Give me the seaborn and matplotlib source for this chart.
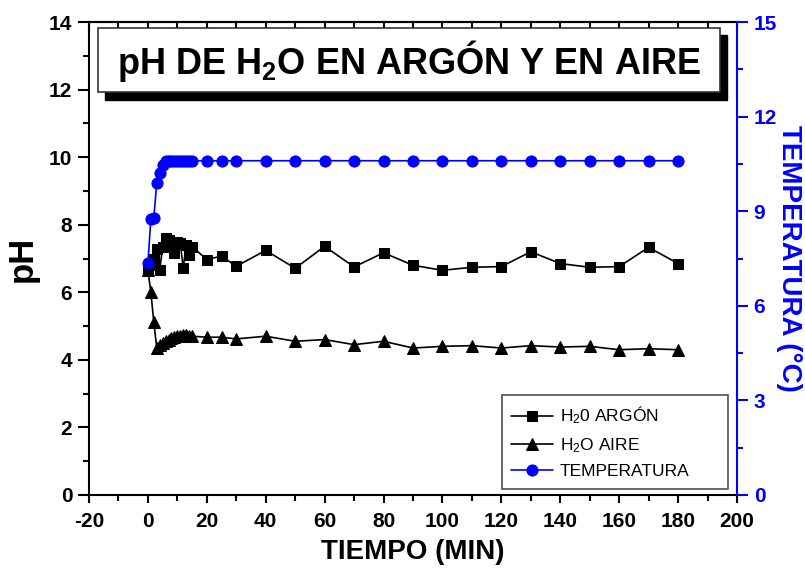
import numpy as np
import pandas as pd
import matplotlib
matplotlib.use('Agg')
import matplotlib.pyplot as plt
import matplotlib.patches as mpatches
from matplotlib.ticker import MultipleLocator
import seaborn as sns

# --- data ---
t_argon = [0, 1, 2, 3, 4, 5, 6, 7, 8, 9, 10, 11, 12, 13, 14, 15,
           20, 25, 30, 40, 50, 60, 70, 80, 90, 100, 110, 120, 130, 140, 150, 160, 170, 180]
ph_argon = [6.65, 6.8, 7.0, 7.27, 6.65, 7.35, 7.6, 7.55, 7.5, 7.17, 7.5, 7.45, 6.72, 7.4, 7.1, 7.35,
            6.97, 7.07, 6.77, 7.24, 6.71, 7.36, 6.75, 7.17, 6.8, 6.65, 6.74, 6.76, 7.2, 6.85, 6.74, 6.76, 7.33, 6.85]

t_aire = [0, 1, 2, 3, 4, 5, 6, 7, 8, 9, 10, 11, 12, 13, 14, 15,
          20, 25, 30, 40, 50, 60, 70, 80, 90, 100, 110, 120, 130, 140, 150, 160, 170, 180]
ph_aire = [6.65, 6.0, 5.12, 4.35, 4.45, 4.5, 4.55, 4.6, 4.65, 4.68, 4.7, 4.72, 4.75, 4.75, 4.72, 4.7,
           4.67, 4.67, 4.62, 4.7, 4.55, 4.6, 4.45, 4.55, 4.35, 4.4, 4.42, 4.35, 4.42, 4.38, 4.4, 4.3, 4.33, 4.3]

t_temp = [0, 1, 2, 3, 4, 5, 6, 7, 8, 9, 10, 11, 12, 13, 14, 15,
          20, 25, 30, 40, 50, 60, 70, 80, 90, 100, 110, 120, 130, 140, 150, 160, 170, 180]
temp = [7.35, 8.75, 8.78, 9.9, 10.2, 10.45, 10.6, 10.6, 10.6, 10.6, 10.6, 10.6, 10.6, 10.6, 10.6, 10.6,
        10.6, 10.6, 10.6, 10.6, 10.6, 10.6, 10.6, 10.6, 10.6, 10.6, 10.6, 10.6, 10.6, 10.6, 10.6, 10.6, 10.6, 10.6]

labels = ["H$_2$0 ARGÓN", "H$_2$O AIRE", "TEMPERATURA"]
title = "pH DE H$_2$O EN ARGÓN Y EN AIRE"

sns.set_theme(style="ticks")
plt.rcParams['font.family'] = ['Liberation Sans', 'DejaVu Sans']
plt.rcParams['mathtext.default'] = 'regular'
plt.rcParams['axes.unicode_minus'] = False
plt.rcParams['text.color'] = 'black'
plt.rcParams['axes.labelcolor'] = 'black'
plt.rcParams['xtick.color'] = 'black'
plt.rcParams['ytick.color'] = 'black'

fig = plt.figure(figsize=(8.05, 5.71), dpi=100)
ax = fig.add_axes([89 / 805, 76 / 571, 648 / 805, 473 / 571])
ax2 = ax.twinx()

sns.lineplot(x=t_argon, y=ph_argon, ax=ax, color='black', marker='s', markersize=7,
             markeredgecolor='black', linewidth=1.2, label=labels[0])
sns.lineplot(x=t_aire, y=ph_aire, ax=ax, color='black', marker='^', markersize=8,
             markeredgecolor='black', linewidth=1.2, label=labels[1])
sns.lineplot(x=t_temp, y=temp, ax=ax2, color='blue', marker='o', markersize=8,
             markeredgecolor='blue', linewidth=1.2, label=labels[2])
# seaborn adds a legend per axes; build a single one below
ax.get_legend().remove()
ax2.get_legend().remove()

ax.set_xlim(-20, 200)
ax.set_ylim(0, 14)
ax2.set_ylim(0, 15)
ax.xaxis.set_major_locator(MultipleLocator(20))
ax.xaxis.set_minor_locator(MultipleLocator(10))
ax.yaxis.set_major_locator(MultipleLocator(2))
ax.yaxis.set_minor_locator(MultipleLocator(1))
ax2.yaxis.set_major_locator(MultipleLocator(3))
ax2.yaxis.set_minor_locator(MultipleLocator(1.5))

for s in ['left', 'bottom', 'top']:
    ax.spines[s].set_color('black')
    ax.spines[s].set_linewidth(1.5)
ax.spines['right'].set_visible(False)
ax2.spines['left'].set_visible(False)
ax2.spines['top'].set_visible(False)
ax2.spines['bottom'].set_visible(False)
ax2.spines['right'].set_color('blue')
ax2.spines['right'].set_linewidth(1.5)

ax.tick_params(axis='x', which='major', direction='out', length=6, width=1.5, color='black',
               labelcolor='black', pad=6)
ax.tick_params(axis='x', which='minor', direction='out', length=4, width=1.5, color='black')
ax.tick_params(axis='y', which='major', direction='out', length=8, width=1.5, color='black',
               labelcolor='black', pad=4)
ax.tick_params(axis='y', which='minor', direction='out', length=4, width=1.5, color='black')
ax2.tick_params(axis='y', which='major', direction='out', length=8, width=1.5, color='blue',
                labelcolor='blue', pad=4)
ax2.tick_params(axis='y', which='minor', direction='out', length=4, width=1.5, color='blue')

# inward ticks on top axis
top = ax.secondary_xaxis('top')
top.set_xticks(np.arange(-20, 201, 10))
top.set_xticklabels([])
top.tick_params(direction='in', length=5, width=1.5, color='black')
top.spines['top'].set_linewidth(1.5)
top.spines['top'].set_color('black')

for lab in ax.get_xticklabels() + ax.get_yticklabels():
    lab.set_fontweight('bold')
    lab.set_fontsize(15)
for lab in ax2.get_yticklabels():
    lab.set_fontweight('bold')
    lab.set_fontsize(15)

ax.set_xlabel("TIEMPO (MIN)", fontsize=20, fontweight='bold', labelpad=6)
ax.set_ylabel("pH", fontsize=25, fontweight='bold', labelpad=7)
ax2.set_ylabel("TEMPERATURA (°C)", fontsize=20, fontweight='bold', color='blue',
               rotation=270, labelpad=18)

# title box with drop shadow
shadow = mpatches.Rectangle((0.0247, 0.835), 0.9603, 0.138, transform=ax.transAxes,
                            facecolor='black', edgecolor='black', clip_on=False, zorder=10)
box = mpatches.Rectangle((0.0139, 0.852), 0.9601, 0.135, transform=ax.transAxes,
                         facecolor='white', edgecolor='#333333', linewidth=1.2,
                         clip_on=False, zorder=11)
ax2.add_patch(shadow)
ax2.add_patch(box)
ax2.text(0.494, 0.918, title, transform=ax.transAxes, ha='center', va='center',
         fontsize=26, fontweight='bold', color='black', zorder=12)

h1, l1 = ax.get_legend_handles_labels()
h2, l2 = ax2.get_legend_handles_labels()
leg = ax2.legend(h1 + h2, l1 + l2, loc='lower left', bbox_to_anchor=(0.637, 0.013, 0.349, 0.194),
                 mode='expand', borderaxespad=0, fontsize=12.5, frameon=True, fancybox=False,
                 edgecolor='#222222', handlelength=2.4, handletextpad=0.4,
                 borderpad=0.55, labelspacing=0.55)
leg.get_frame().set_linewidth(1.2)
for txt in leg.get_texts():
    txt.set_color('black')

fig.savefig("out.png", dpi=100)
